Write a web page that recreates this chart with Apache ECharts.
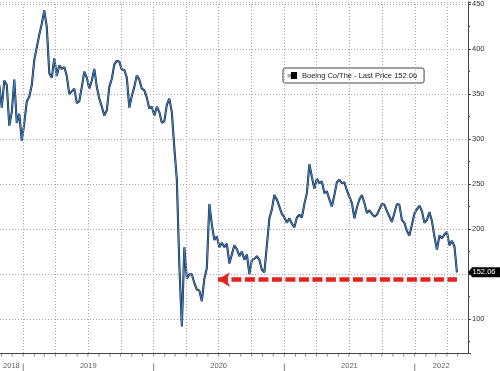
<!DOCTYPE html>
<html><head><meta charset="utf-8">
<script src="https://cdn.jsdelivr.net/npm/echarts@6/dist/echarts.min.js"></script>
<style>html,body{margin:0;padding:0;background:#fff}#c{width:500px;height:371px}</style>
</head><body><div id="c"></div>
<script>
// Weekly closes (Fridays), starting 2018-10-26
const firstWeek = [2018, 9, 26];
const prices = [
  360,335,365,360,315,330,366,318,328,298,
  318,342,347,360,388,402,416,428,443,424,
  373,368,390,370,382,378,380,370,350,353,
  356,340,342,358,375,368,356,365,378,358,
  345,336,326,332,358,367,383,387,386,377,
  377,368,335,348,358,371,366,356,354,346,
  334,336,326,336,330,318,320,338,345,330,
  290,255,160,92,180,145,150,150,140,133,
  132,120,145,157,228,205,188,192,180,185,
  180,184,162,172,182,178,170,175,166,172,
  150,166,167,170,166,155,152,182,212,222,
  238,233,225,217,213,207,212,206,202,213,
  216,213,228,240,272,258,245,256,251,253,
  240,242,233,225,238,252,255,251,252,243,
  236,229,212,224,233,238,229,218,221,217,
  214,216,222,228,227,220,214,208,218,228,
  227,210,207,198,193,205,217,222,226,220,
  207,210,219,209,192,177,193,190,194,197,
  182,187,181,152.06
];
const seriesName = 'Boeing Co/The - Last Price';
const lastPrice = 152.06;
const xMin = '2018-10-28', xMax = '2022-05-30';
const yMin = 62.5, yMax = 452.2;
const quarterStarts = ['2019-01-01','2019-04-01','2019-07-01','2019-10-01','2020-01-01','2020-04-01','2020-07-01','2020-10-01','2021-01-01','2021-04-01','2021-07-01','2021-10-01','2022-01-01','2022-04-01'];
const yearStarts = ['2019-01-01','2020-01-01','2021-01-01','2022-01-01'];
const yearLabels = ['2018','2019','2020','2021','2022'];
const yearLabelDates = ['2018-11-29','2019-07-02','2020-07-01','2021-07-02','2022-03-16'];
const arrowLevel = 144;
const arrowStart = '2020-06-29', arrowEnd = '2022-04-29';

const pad = n => (n < 10 ? '0' : '') + n;
const dates = [];
for (let k = 0; k < prices.length; k++) {
  const d = new Date(Date.UTC(firstWeek[0], firstWeek[1], firstWeek[2]) + k * 7 * 864e5);
  dates.push(d.getUTCFullYear() + '-' + pad(d.getUTCMonth() + 1) + '-' + pad(d.getUTCDate()));
}
const monthStarts = [];
for (let y = 2018, m = 10; y < 2022 || m <= 4; m++) {
  if (m > 11) { m = 0; y++; }
  monthStarts.push(y + '-' + pad(m + 1) + '-01');
  if (y === 2022 && m === 4) break;
}
const lineData = dates.map((d, i) => [d, prices[i]]);
const font = 'Liberation Sans';

const chart = echarts.init(document.getElementById('c'));
chart.setOption({
  animation: false,
  backgroundColor: '#fff',
  grid: { left: 0, right: 32, top: 0, bottom: 18 },
  legend: {
    data: [seriesName], left: 283, top: 68, icon: 'rect', itemWidth: 6, itemHeight: 7,
    padding: [3, 7, 3, 8], borderColor: '#444', borderWidth: 1, borderRadius: 2,
    backgroundColor: '#fff', itemStyle: { color: '#000' },
    textStyle: { fontSize: 7.5, color: '#222', fontFamily: font, lineHeight: 9 },
    formatter: n => n + ' ' + lastPrice.toFixed(2)
  },
  graphic: [{ type: 'rect', z: 100, shape: { x: 287.5, y: 74, width: 3.5, height: 3.5 }, style: { fill: '#aaa' } }],
  xAxis: {
    type: 'time', min: xMin, max: xMax,
    axisLine: { show: true, onZero: false, lineStyle: { color: '#444' } },
    axisTick: { show: false }, axisLabel: { show: false }, splitLine: { show: false }
  },
  yAxis: {
    type: 'value', position: 'right', min: yMin, max: yMax, splitNumber: 8,
    axisLine: { show: true, lineStyle: { color: '#444' } },
    axisTick: { show: true, length: 3, lineStyle: { color: '#444' } },
    minorTick: { show: true, splitNumber: 2, length: 2, lineStyle: { color: '#444' } },
    axisLabel: { fontSize: 7.5, color: '#333', margin: 4, fontFamily: font,
      formatter: v => (v % 50 === 0 ? String(v) : '') },
    splitLine: { show: true, lineStyle: { type: [1, 2], color: '#aaa' } }
  },
  series: [
    { type: 'line', name: 'grid', data: [], z: 1, silent: true,
      markLine: { silent: true, symbol: 'none', label: { show: false },
        lineStyle: { type: [1, 2], color: '#aaa', width: 1 },
        data: quarterStarts.map(d => ({ xAxis: d })) } },
    { type: 'line', name: seriesName, data: lineData, showSymbol: false, symbol: 'none', z: 3,
      lineStyle: { color: '#18222e', width: 2.1 }, itemStyle: { color: '#000' },
      markPoint: { symbol: 'path://M0,5 L4,0 L30,0 L30,10 L4,10 Z', symbolSize: [32, 10],
        symbolOffset: [16, 0], itemStyle: { color: '#000' },
        label: { show: true, color: '#fff', fontSize: 7.5, fontFamily: font, formatter: () => lastPrice.toFixed(2) },
        data: [{ coord: [xMax, lastPrice] }] } },
    { type: 'line', name: 'blue', data: lineData, showSymbol: false, symbol: 'none', z: 4,
      lineStyle: { color: '#3f86d8', width: 1.0 } },
    { type: 'line', name: 'arrow', data: [], z: 5,
      markLine: { silent: true, symbol: ['arrow', 'none'], symbolSize: [11, 12], label: { show: false },
        lineStyle: { color: '#e4231f', width: 4.5, type: [10, 3.5] },
        data: [[{ coord: [arrowStart, arrowLevel] }, { coord: [arrowEnd, arrowLevel] }]] } },
    { type: 'scatter', name: 'years', z: 5, symbolSize: 0, clip: false, silent: true,
      data: yearLabelDates.map((d, i) => [d, yMin, yearLabels[i]]),
      label: { show: true, position: 'bottom', distance: 9, fontSize: 7.5, color: '#333', fontFamily: font,
        formatter: p => p.data[2] } },
    { type: 'scatter', name: 'yearsep', z: 5, symbol: 'rect', symbolSize: [1, 8], symbolOffset: [0, 14.5],
      clip: false, silent: true, itemStyle: { color: '#666' },
      data: yearStarts.map(d => [d, yMin]) },
    { type: 'scatter', name: 'monthticks', z: 5, symbol: 'rect', symbolSize: [1, 3], symbolOffset: [0, 2],
      clip: false, silent: true, itemStyle: { color: '#666' },
      data: monthStarts.map(d => [d, yMin]) }
  ]
});
</script></body></html>
